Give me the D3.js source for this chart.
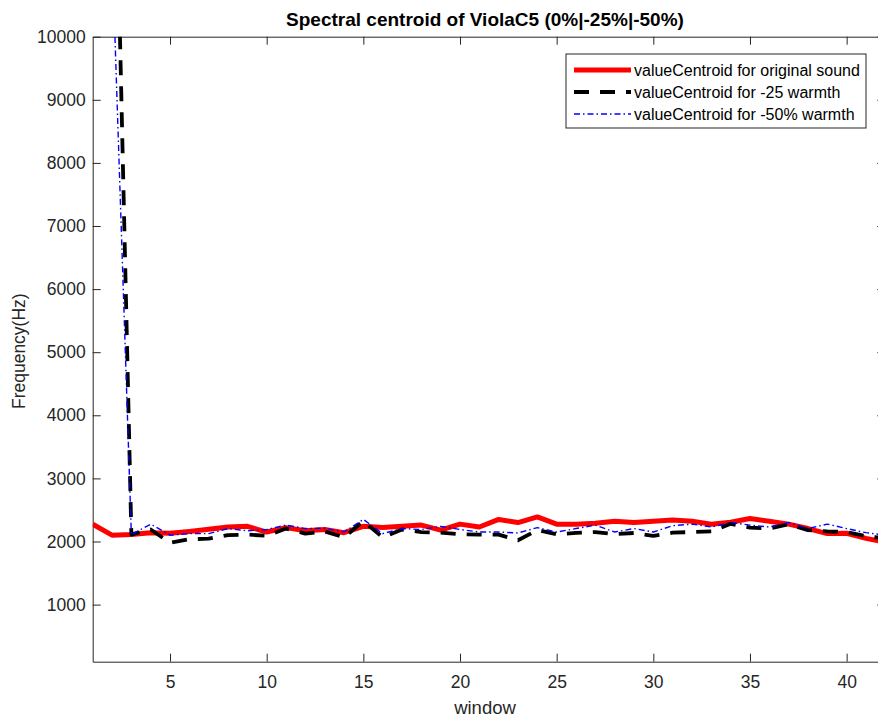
<!DOCTYPE html>
<html>
<head>
<meta charset="utf-8">
<script src="https://cdn.jsdelivr.net/npm/d3@7"></script>
<style>
  body { margin: 0; background: #fff; }
  svg { display: block; font-family: "Liberation Sans", Arial, sans-serif; }
</style>
</head>
<body>
<svg id="chart"></svg>
<script>
// window index 1..42
var windows = d3.range(1, 43);

var original = [2274, 2100, 2110, 2140, 2130, 2160, 2195, 2230, 2240, 2150,
  2220, 2170, 2190, 2140, 2240, 2220, 2240, 2260, 2180, 2275,
  2230, 2350, 2300, 2390, 2275, 2275, 2290, 2320, 2300, 2320,
  2340, 2320, 2275, 2305, 2365, 2320, 2275, 2205, 2125, 2130,
  2050, 1990];

var warm25 = [15500, 15500, 2110, 2190, 1980, 2035, 2045, 2100, 2110, 2090,
  2205, 2125, 2160, 2065, 2325, 2065, 2190, 2150, 2140, 2115,
  2110, 2110, 2020, 2180, 2115, 2135, 2150, 2115, 2135, 2090,
  2140, 2150, 2160, 2280, 2220, 2205, 2275, 2180, 2160, 2150,
  2085, 2050];

var warm50 = [11400, 11400, 2110, 2275, 2100, 2125, 2125, 2205, 2170, 2190,
  2260, 2205, 2210, 2150, 2350, 2125, 2205, 2190, 2240, 2190,
  2150, 2150, 2135, 2220, 2150, 2205, 2260, 2150, 2205, 2150,
  2250, 2275, 2230, 2300, 2260, 2230, 2300, 2205, 2275, 2205,
  2140, 2100];

var yTicks = [1000, 2000, 3000, 4000, 5000, 6000, 7000, 8000, 9000, 10000];
var xTicks = [5, 10, 15, 20, 25, 30, 35, 40];

var seriesNames = ["valueCentroid for original sound", "valueCentroid for -25 warmth", "valueCentroid for -50% warmth"];
var seriesColors = ["#ff0000", "#000000", "#0000ff"];
var seriesWidths = [5, 3.8, 1.4];
var seriesDash = [null, "15,11", "6,3,1.5,3"];

(function() {
var width = 878, height = 719;
var pLeft = 92.7, pRight = 885.3, pTop = 36.7, pBottom = 661.7;
var axisColor = "#262626";

var svg = d3.select("#chart").attr("width", width).attr("height", height);

var x = d3.scaleLinear().domain([1, 42]).range([pLeft, pRight]);
var y = d3.scaleLinear().domain([95, 10000]).range([pBottom, pTop]);

svg.append("defs").append("clipPath").attr("id", "plotclip")
  .append("rect").attr("x", pLeft).attr("y", pTop)
  .attr("width", pRight - pLeft).attr("height", pBottom - pTop);

// axes (box with ticks inside, MATLAB style)
var tickLen = 8;
var gx = svg.append("g").attr("transform", "translate(0," + pBottom + ")")
  .call(d3.axisBottom(x).tickValues(xTicks).tickSizeInner(-tickLen).tickSizeOuter(0).tickPadding(14));
var gxTop = svg.append("g").attr("transform", "translate(0," + pTop + ")")
  .call(d3.axisTop(x).tickValues(xTicks).tickSizeInner(-tickLen).tickSizeOuter(0).tickFormat(""));
var gy = svg.append("g").attr("transform", "translate(" + pLeft + ",0)")
  .call(d3.axisLeft(y).tickValues(yTicks).tickSizeInner(-tickLen).tickSizeOuter(0).tickPadding(7).tickFormat(d3.format("d")));
var gyRight = svg.append("g").attr("transform", "translate(" + pRight + ",0)")
  .call(d3.axisRight(y).tickValues(yTicks).tickSizeInner(-tickLen).tickSizeOuter(0).tickFormat(""));

[gx, gxTop, gy, gyRight].forEach(function(g) {
  g.selectAll("path.domain").attr("stroke", axisColor).attr("stroke-width", 1);
  g.selectAll(".tick line").attr("stroke", axisColor);
  g.selectAll(".tick text").attr("fill", axisColor).style("font-size", "17.5px")
    .style("font-family", "'Liberation Sans', Arial, sans-serif");
});

// lines
var line = d3.line()
  .x(function(d) { return x(d[0]); })
  .y(function(d) { return y(d[1]); });

var allSeries = [original, warm25, warm50];
var plot = svg.append("g").attr("clip-path", "url(#plotclip)");
allSeries.forEach(function(vals, k) {
  plot.append("path")
    .datum(windows.map(function(w, i) { return [w, vals[i]]; }))
    .attr("fill", "none")
    .attr("stroke", seriesColors[k])
    .attr("stroke-width", seriesWidths[k])
    .attr("stroke-dasharray", seriesDash[k])
    .attr("stroke-linejoin", "round")
    .attr("d", line);
});

// title and labels
svg.append("text").attr("x", (pLeft + pRight) / 2 - 4).attr("y", 26)
  .attr("text-anchor", "middle").style("font-size", "19px").style("font-weight", "bold")
  .attr("fill", "#000").text("Spectral centroid of ViolaC5 (0%|-25%|-50%)");

svg.append("text").attr("x", (pLeft + pRight) / 2 - 4).attr("y", 714)
  .attr("text-anchor", "middle").style("font-size", "18.5px").attr("fill", axisColor)
  .text("window");

svg.append("text").attr("transform", "translate(25," + ((pTop + pBottom) / 2 + 2) + ") rotate(-90)")
  .attr("text-anchor", "middle").style("font-size", "17.5px").attr("fill", axisColor)
  .text("Frequency(Hz)");

// legend
var lg = svg.append("g");
lg.append("rect").attr("x", 566).attr("y", 54).attr("width", 300).attr("height", 74)
  .attr("fill", "#fff").attr("stroke", axisColor).attr("stroke-width", 1);
var rowY = [70, 92, 114];
seriesNames.forEach(function(name, k) {
  lg.append("line").attr("x1", 574).attr("x2", 631).attr("y1", rowY[k]).attr("y2", rowY[k])
    .attr("stroke", seriesColors[k]).attr("stroke-width", seriesWidths[k])
    .attr("stroke-dasharray", seriesDash[k]);
  lg.append("text").attr("x", 634).attr("y", rowY[k] + 5.5)
    .style("font-size", "16px").attr("fill", "#000").text(name);
});
})();
</script>
</body>
</html>
